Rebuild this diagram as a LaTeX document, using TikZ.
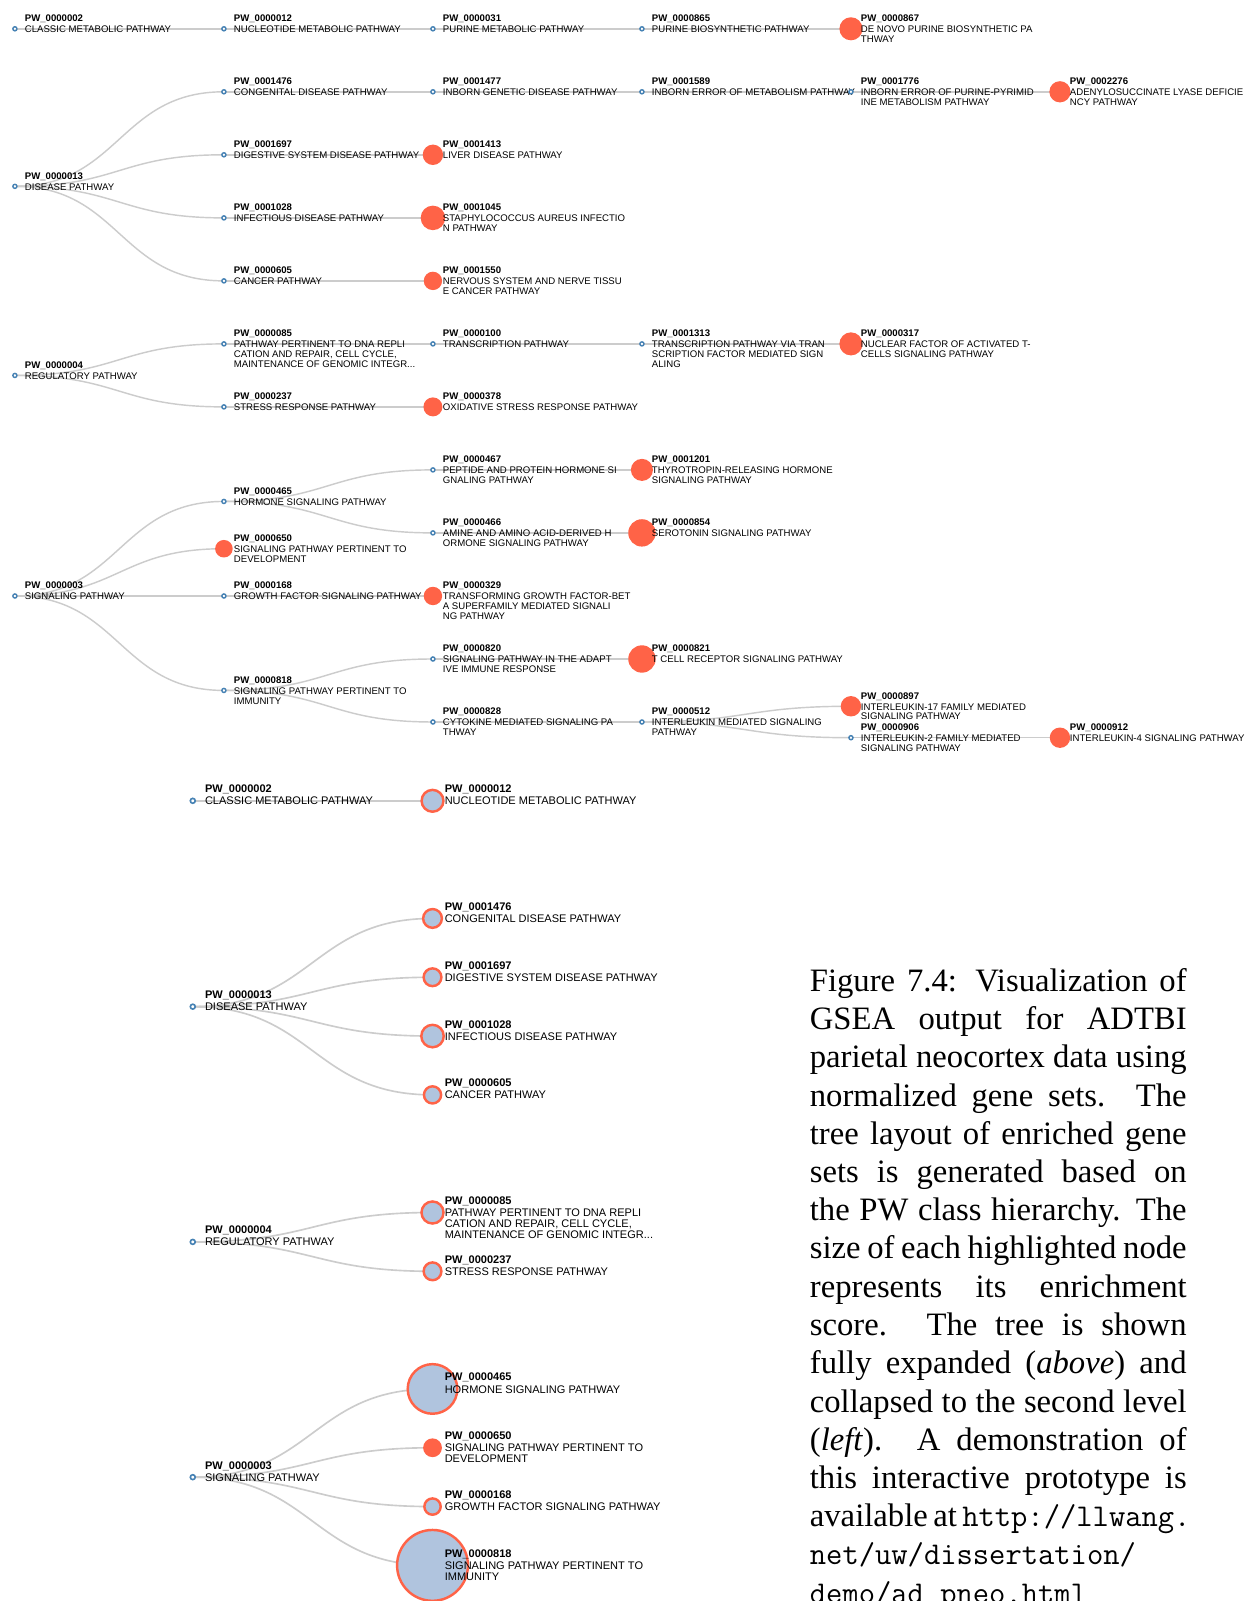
\documentclass[tikz,border=0pt]{standalone}
\usepackage{fontspec}
\usetikzlibrary{calc}
\newfontfamily\lblfont{Liberation Sans}
\newfontfamily\capfont{Liberation Serif}

\definecolor{tomato}{RGB}{255,99,71}
\definecolor{steel}{RGB}{70,130,180}
\definecolor{lsteel}{RGB}{176,196,222}
\definecolor{linkgray}{RGB}{204,204,204}

\pgfdeclarelayer{paper}
\pgfdeclarelayer{bg}
\pgfsetlayers{paper,bg,main}

\tikzset{
  link/.style={draw=linkgray, line width=1.4pt},
  blink/.style={line width=1.6pt},
  tsm/.style={circle, inner sep=0pt, minimum size=4pt, draw=steel, fill=white, line width=1.4pt},
  bsm/.style={circle, inner sep=0pt, minimum size=4.8pt, draw=steel, fill=white, line width=1.6pt},
  tred/.style={circle, inner sep=0pt, minimum size=#1*2pt, fill=tomato},
  bcol/.style={circle, inner sep=0pt, minimum size=#1*2pt, fill=lsteel, draw=tomato, line width=2.4pt},
  tlbl/.style={anchor=base west, inner sep=0pt, xshift=9.6pt, yshift=6.9pt,
    font=\lblfont\fontsize{9.4}{9.6}\selectfont},
  blbl/.style={anchor=base west, inner sep=0pt, xshift=11.8pt, yshift=7.9pt,
    font=\lblfont\fontsize{10.8}{10.9}\selectfont},
  capl/.style={anchor=base west, inner sep=0pt, font=\capfont\fontsize{32}{37.5}\selectfont},
}

% pathway node: name, position, circle style, label style, id digits, label lines
\newcommand\pw[6]{%
  \node[#3] (#1) at #2 {};
  \node[#4] (#1-l) at (#1.center)
    {\begin{tabular}[t]{@{}l@{}}\bfseries PW\_#5\\[1pt] #6\end{tabular}};}

% horizontal tree link (d3-style diagonal) drawn beneath the nodes
\newcommand\lk[3][]{%
  \begin{pgfonlayer}{bg}
  \path (#2.center) -- (#3.center) coordinate[pos=0.5] (lkm);
  \draw[link,#1] (#2.center) .. controls (lkm |- #2.center) and (lkm |- #3.center) .. (#3.center);
  \end{pgfonlayer}}

% caption lines
\newcommand\capw{369pt}
\newcommand\cl[3]{\node[capl] (#1) at (793,#2) {\makebox[\capw][s]{#3}};}
\newcommand\cll[3]{\node[capl] (#1) at (793,#2) {#3};}
\newcommand\url[1]{{\ttfamily\fontsize{31}{37.5}\selectfont #1}}

\begin{document}
\begin{tikzpicture}[x=1pt, y=-1pt]
\useasboundingbox (0,0) rectangle (1220,1568);
\begin{pgfonlayer}{paper}
  \fill[white] (0,0) rectangle (1220,1568);
\end{pgfonlayer}
\clip (0,0) rectangle (1220,1568);

% ---------------- expanded tree ----------------
\pw{t002}{(14.6,28.2)}{tsm}{tlbl}{0000002}{CLASSIC METABOLIC PATHWAY}
\pw{t012}{(219.3,28.2)}{tsm}{tlbl}{0000012}{NUCLEOTIDE METABOLIC PATHWAY}
\pw{t031}{(424,28.2)}{tsm}{tlbl}{0000031}{PURINE METABOLIC PATHWAY}
\pw{t865}{(628.7,28.2)}{tsm}{tlbl}{0000865}{PURINE BIOSYNTHETIC PATHWAY}
\pw{t867}{(833.4,28.2)}{tred=11.3}{tlbl}{0000867}{DE NOVO PURINE BIOSYNTHETIC PA\\THWAY}

\pw{t013}{(14.6,182.5)}{tsm}{tlbl}{0000013}{DISEASE PATHWAY}
\pw{t1476}{(219.3,89.9)}{tsm}{tlbl}{0001476}{CONGENITAL DISEASE PATHWAY}
\pw{t1477}{(424,89.9)}{tsm}{tlbl}{0001477}{INBORN GENETIC DISEASE PATHWAY}
\pw{t1589}{(628.7,89.9)}{tsm}{tlbl}{0001589}{INBORN ERROR OF METABOLISM PATHWAY}
\pw{t1776}{(833.4,89.9)}{tsm}{tlbl}{0001776}{INBORN ERROR OF PURINE-PYRIMID\\INE METABOLISM PATHWAY}
\pw{t2276}{(1038.1,89.9)}{tred=10.4}{tlbl}{0002276}{ADENYLOSUCCINATE LYASE DEFICIE\\NCY PATHWAY}
\pw{t1697}{(219.3,151.6)}{tsm}{tlbl}{0001697}{DIGESTIVE SYSTEM DISEASE PATHWAY}
\pw{t1413}{(424,151.6)}{tred=10}{tlbl}{0001413}{LIVER DISEASE PATHWAY}
\pw{t1028}{(219.3,213.4)}{tsm}{tlbl}{0001028}{INFECTIOUS DISEASE PATHWAY}
\pw{t1045}{(424,213.4)}{tred=12}{tlbl}{0001045}{STAPHYLOCOCCUS AUREUS INFECTIO\\N PATHWAY}
\pw{t605}{(219.3,275.1)}{tsm}{tlbl}{0000605}{CANCER PATHWAY}
\pw{t1550}{(424,275.1)}{tred=9}{tlbl}{0001550}{NERVOUS SYSTEM AND NERVE TISSU\\E CANCER PATHWAY}

\pw{t004}{(14.6,367.7)}{tsm}{tlbl}{0000004}{REGULATORY PATHWAY}
\pw{t085}{(219.3,336.8)}{tsm}{tlbl}{0000085}{PATHWAY PERTINENT TO DNA REPLI\\CATION AND REPAIR, CELL CYCLE,\\MAINTENANCE OF GENOMIC INTEGR...}
\pw{t100}{(424,336.8)}{tsm}{tlbl}{0000100}{TRANSCRIPTION PATHWAY}
\pw{t1313}{(628.7,336.8)}{tsm}{tlbl}{0001313}{TRANSCRIPTION PATHWAY VIA TRAN\\SCRIPTION FACTOR MEDIATED SIGN\\ALING}
\pw{t317}{(833.4,336.8)}{tred=11.3}{tlbl}{0000317}{NUCLEAR FACTOR OF ACTIVATED T-\\CELLS SIGNALING PATHWAY}
\pw{t237}{(219.3,398.5)}{tsm}{tlbl}{0000237}{STRESS RESPONSE PATHWAY}
\pw{t378}{(424,398.5)}{tred=9.3}{tlbl}{0000378}{OXIDATIVE STRESS RESPONSE PATHWAY}

\pw{t003}{(14.6,583.7)}{tsm}{tlbl}{0000003}{SIGNALING PATHWAY}
\pw{t465}{(219.3,491.1)}{tsm}{tlbl}{0000465}{HORMONE SIGNALING PATHWAY}
\pw{t467}{(424,460.2)}{tsm}{tlbl}{0000467}{PEPTIDE AND PROTEIN HORMONE SI\\GNALING PATHWAY}
\pw{t1201}{(628.7,460.2)}{tred=10.8}{tlbl}{0001201}{THYROTROPIN-RELEASING HORMONE\\SIGNALING PATHWAY}
\pw{t466}{(424,521.9)}{tsm}{tlbl}{0000466}{AMINE AND AMINO ACID-DERIVED H\\ORMONE SIGNALING PATHWAY}
\pw{t854}{(628.7,521.9)}{tred=13.4}{tlbl}{0000854}{SEROTONIN SIGNALING PATHWAY}
\pw{t650}{(219.3,537.4)}{tred=8.6}{tlbl}{0000650}{SIGNALING PATHWAY PERTINENT TO\\DEVELOPMENT}
\pw{t168}{(219.3,583.7)}{tsm}{tlbl}{0000168}{GROWTH FACTOR SIGNALING PATHWAY}
\pw{t329}{(424,583.7)}{tred=9}{tlbl}{0000329}{TRANSFORMING GROWTH FACTOR-BET\\A SUPERFAMILY MEDIATED SIGNALI\\NG PATHWAY}
\pw{t818}{(219.3,676.2)}{tsm}{tlbl}{0000818}{SIGNALING PATHWAY PERTINENT TO\\IMMUNITY}
\pw{t820}{(424,645.4)}{tsm}{tlbl}{0000820}{SIGNALING PATHWAY IN THE ADAPT\\IVE IMMUNE RESPONSE}
\pw{t821}{(628.7,645.4)}{tred=13.4}{tlbl}{0000821}{T CELL RECEPTOR SIGNALING PATHWAY}
\pw{t828}{(424,707.1)}{tsm}{tlbl}{0000828}{CYTOKINE MEDIATED SIGNALING PA\\THWAY}
\pw{t512}{(628.7,707.1)}{tsm}{tlbl}{0000512}{INTERLEUKIN MEDIATED SIGNALING\\PATHWAY}
\pw{t897}{(833.4,691.7)}{tred=10}{tlbl}{0000897}{INTERLEUKIN-17 FAMILY MEDIATED\\SIGNALING PATHWAY}
\pw{t906}{(833.4,722.5)}{tsm}{tlbl}{0000906}{INTERLEUKIN-2 FAMILY MEDIATED\\SIGNALING PATHWAY}
\pw{t912}{(1038.1,722.5)}{tred=10}{tlbl}{0000912}{INTERLEUKIN-4 SIGNALING PATHWAY}

\lk{t002}{t012}\lk{t012}{t031}\lk{t031}{t865}\lk{t865}{t867}
\lk{t013}{t1476}\lk{t1476}{t1477}\lk{t1477}{t1589}\lk{t1589}{t1776}\lk{t1776}{t2276}
\lk{t013}{t1697}\lk{t1697}{t1413}
\lk{t013}{t1028}\lk{t1028}{t1045}
\lk{t013}{t605}\lk{t605}{t1550}
\lk{t004}{t085}\lk{t085}{t100}\lk{t100}{t1313}\lk{t1313}{t317}
\lk{t004}{t237}\lk{t237}{t378}
\lk{t003}{t465}\lk{t465}{t467}\lk{t467}{t1201}\lk{t465}{t466}\lk{t466}{t854}
\lk{t003}{t650}
\lk{t003}{t168}\lk{t168}{t329}
\lk{t003}{t818}\lk{t818}{t820}\lk{t820}{t821}\lk{t818}{t828}\lk{t828}{t512}
\lk{t512}{t897}\lk{t512}{t906}\lk{t906}{t912}

% ---------------- collapsed tree ----------------
\pw{b002}{(188.8,784.3)}{bsm}{blbl}{0000002}{CLASSIC METABOLIC PATHWAY}
\pw{b012}{(423.6,784.3)}{bcol=10.7}{blbl}{0000012}{NUCLEOTIDE METABOLIC PATHWAY}

\pw{b013}{(188.8,985.9)}{bsm}{blbl}{0000013}{DISEASE PATHWAY}
\pw{b1476}{(423.6,899.5)}{bcol=9.2}{blbl}{0001476}{CONGENITAL DISEASE PATHWAY}
\pw{b1697}{(423.6,957.1)}{bcol=8.7}{blbl}{0001697}{DIGESTIVE SYSTEM DISEASE PATHWAY}
\pw{b1028}{(423.6,1014.7)}{bcol=11}{blbl}{0001028}{INFECTIOUS DISEASE PATHWAY}
\pw{b605}{(423.6,1072.3)}{bcol=8.4}{blbl}{0000605}{CANCER PATHWAY}

\pw{b004}{(188.8,1216.3)}{bsm}{blbl}{0000004}{REGULATORY PATHWAY}
\pw{b085}{(423.6,1187.5)}{bcol=10.8}{blbl}{0000085}{PATHWAY PERTINENT TO DNA REPLI\\CATION AND REPAIR, CELL CYCLE,\\MAINTENANCE OF GENOMIC INTEGR...}
\pw{b237}{(423.6,1245.1)}{bcol=8.7}{blbl}{0000237}{STRESS RESPONSE PATHWAY}

\pw{b003}{(188.8,1446.7)}{bsm}{blbl}{0000003}{SIGNALING PATHWAY}
\pw{b465}{(423.6,1360.3)}{bcol=24.3}{blbl}{0000465}{HORMONE SIGNALING PATHWAY}
\pw{b650}{(423.6,1417.9)}{tred=9.2}{blbl}{0000650}{SIGNALING PATHWAY PERTINENT TO\\DEVELOPMENT}
\pw{b168}{(423.6,1475.5)}{bcol=8}{blbl}{0000168}{GROWTH FACTOR SIGNALING PATHWAY}
\pw{b818}{(423.6,1533.1)}{bcol=34.7}{blbl}{0000818}{SIGNALING PATHWAY PERTINENT TO\\IMMUNITY}

\lk[blink]{b002}{b012}
\lk[blink]{b013}{b1476}\lk[blink]{b013}{b1697}\lk[blink]{b013}{b1028}\lk[blink]{b013}{b605}
\lk[blink]{b004}{b085}\lk[blink]{b004}{b237}
\lk[blink]{b003}{b465}\lk[blink]{b003}{b650}\lk[blink]{b003}{b168}\lk[blink]{b003}{b818}

% ---------------- caption ----------------
\cl{c1}{970.8}{Figure 7.4:  Visualization of}
\cl{c2}{1008.3}{GSEA output for ADTBI}
\cl{c3}{1045.7}{parietal neocortex data using}
\cl{c4}{1083.2}{normalized gene sets.  The}
\cl{c5}{1120.6}{tree layout of enriched gene}
\cl{c6}{1158.1}{sets is generated based on}
\cl{c7}{1195.6}{the PW class hierarchy.  The}
\cl{c8}{1233.0}{size of each highlighted node}
\cl{c9}{1270.5}{represents its enrichment}
\cl{c10}{1307.9}{score.  The tree is shown}
\cl{c11}{1345.4}{fully expanded (\textit{above}) and}
\cl{c12}{1382.9}{collapsed to the second level}
\cl{c13}{1420.3}{(\textit{left}).  A demonstration of}
\cl{c14}{1457.8}{this interactive prototype is}
\cl{c15}{1495.2}{available at \url{http://llwang.}}
\cll{c16}{1532.7}{\url{net/uw/dissertation/}}
\cll{c17}{1570.2}{\url{demo/ad\_pneo.html}}
\end{tikzpicture}
\end{document}
